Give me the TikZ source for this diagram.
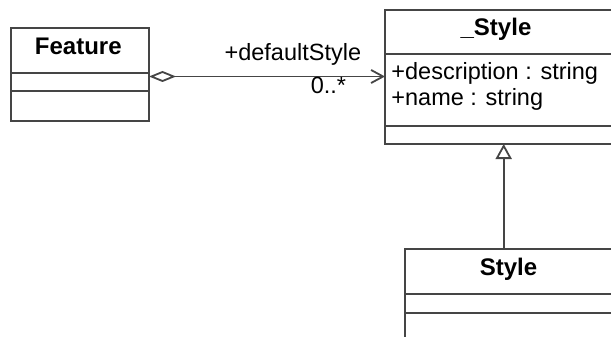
\documentclass[tikz,border=0pt]{standalone}
\usepackage{fontspec}
\setmainfont{Liberation Sans}
\usetikzlibrary{arrows.meta,positioning}
\definecolor{umlgray}{HTML}{454545}

\begin{document}
\begin{tikzpicture}[x=1pt,y=-1pt,line width=1.8pt,
    box/.style={draw=umlgray,anchor=north west,inner sep=0pt,outer sep=0pt},
    title/.style={font=\fontsize{24}{26}\selectfont\bfseries,inner sep=0pt,anchor=base},
    member/.style={font=\fontsize{23.5}{26}\selectfont,inner sep=0pt},
    assoc/.style={draw=umlgray,{Diamond[open,length=27pt,width=11pt]}-{Straight Barb[length=12pt,width=13pt]}},
    inherit/.style={draw=umlgray,-{Triangle[open,length=15pt,width=16pt]}}]
  \useasboundingbox (0,0) rectangle (611,337);
  \clip (0,0) rectangle (611,337);
  % Feature
  \node[box,minimum width=138pt,minimum height=44.7pt] (featurehead) at (11,28) {};
  \node[box,minimum width=138pt,minimum height=18pt] (featureattr) at (featurehead.south west) {};
  \node[box,minimum width=138pt,minimum height=30.3pt] (featureop) at (featureattr.south west) {};
  \node[title] (featuretitle) at (78.3,55) {Feature};
  % _Style
  \node[box,minimum width=250pt,minimum height=44pt] (basehead) at (385,10) {};
  \node[box,minimum width=250pt,minimum height=72pt] (baseattr) at (basehead.south west) {};
  \node[box,minimum width=250pt,minimum height=18pt] (baseop) at (baseattr.south west) {};
  \node[title] (basetitle) at (496,36) {\_Style};
  \node[member,anchor=base west] (description) at (390.5,80) {+description : string};
  \node[member,anchor=base west] (name) at (390.5,106) {+name : string};
  % Style
  \node[box,minimum width=230pt,minimum height=45pt] (stylehead) at (405,249) {};
  \node[box,minimum width=230pt,minimum height=19pt] (styleattr) at (stylehead.south west) {};
  \node[box,minimum width=230pt,minimum height=40pt] (styleop) at (styleattr.south west) {};
  \node[title] (styletitle) at (508.5,275.7) {Style};
  % connectors
  \coordinate (aggfrom) at ([yshift=-3.8pt]featureattr.north east);
  \draw[assoc] (aggfrom) -- (aggfrom -| baseattr.west)
    node[member,pos=1,anchor=base east,xshift=-23pt,yshift=16pt] (rolename) {+defaultStyle}
    node[member,pos=1,anchor=base east,xshift=-38pt,yshift=-16.5pt] (multiplicity) {0..*};
  \coordinate (genfrom) at (503.7,249);
  \draw[inherit] (genfrom) -- (genfrom |- baseop.south);
\end{tikzpicture}
\end{document}
